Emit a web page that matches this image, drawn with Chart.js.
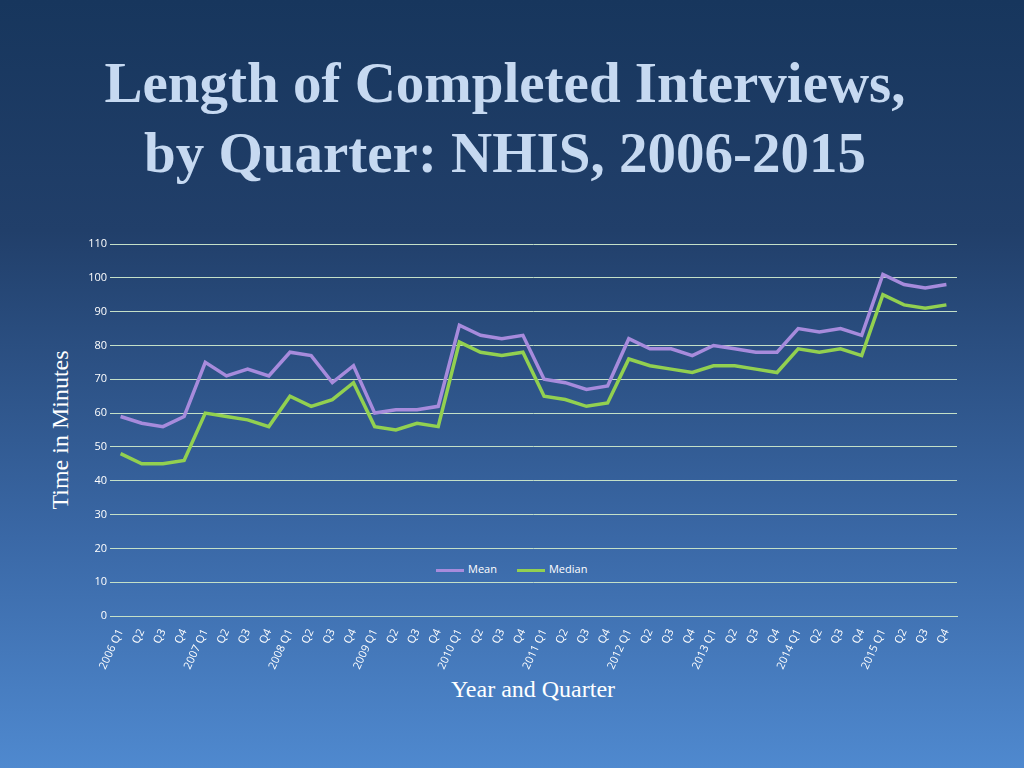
<!DOCTYPE html>
<html><head><meta charset="utf-8">
<script src="https://cdn.jsdelivr.net/npm/chart.js@4"></script>
<style>
html,body{margin:0;padding:0;}
body{width:1024px;height:768px;overflow:hidden;position:relative;background:linear-gradient(180deg,#17365d 0%,#213f6a 30%,#3a68a6 70%,#4f89cf 100%);font-family:"Liberation Serif",serif;}
#title{position:absolute;top:48px;left:0;width:1010px;text-align:center;color:#c6d9f1;font-weight:bold;font-size:57px;line-height:70px;}
#ytitle{position:absolute;left:60px;top:430px;transform:translate(-50%,-50%) rotate(-90deg);color:#fff;font-size:24px;white-space:nowrap;}
#xtitle{position:absolute;top:676px;left:0;width:1066px;text-align:center;color:#fff;font-size:24px;}
#legend{position:absolute;top:561px;left:436px;color:#fff;font-family:"Open Sans",sans-serif;font-size:11px;}
#legend span{display:inline-block;margin-right:20px;}
#legend i{display:inline-block;width:28px;height:3px;vertical-align:middle;margin-right:4px;}
canvas{position:absolute;left:0;top:230px;}
</style></head><body>
<div id="title">Length of Completed Interviews,<br>by Quarter: NHIS, 2006-2015</div>
<div id="ytitle">Time in Minutes</div>
<div id="xtitle">Year and Quarter</div>
<div id="legend"><span><i style="background:#a78bdc"></i>Mean</span><span><i style="background:#92d050"></i>Median</span></div>
<canvas id="c" width="1024" height="538"></canvas>
<script>
const years=["2006","2007","2008","2009","2010","2011","2012","2013","2014","2015"];
const quarters=["Q1","Q2","Q3","Q4"];
const labels=[];years.forEach(y=>quarters.forEach(q=>labels.push(q==="Q1"?y+" Q1":q)));
const mean=[59,57,56,59, 75,71,73,71, 78,77,69,74, 60,61,61,62, 86,83,82,83, 70,69,67,68, 82,79,79,77, 80,79,78,78, 85,84,85,83, 101,98,97,98];
const median=[48,45,45,46, 60,59,58,56, 65,62,64,69, 56,55,57,56, 81,78,77,78, 65,64,62,63, 76,74,73,72, 74,74,73,72, 79,78,79,77, 95,92,91,92];
new Chart(document.getElementById('c'),{type:'line',
data:{labels,datasets:[
{label:'Mean',data:mean,borderColor:'#a78bdc',borderWidth:3.5,pointRadius:0,tension:0},
{label:'Median',data:median,borderColor:'#92d050',borderWidth:3.5,pointRadius:0,tension:0}]},
options:{responsive:false,animation:false,layout:{padding:{top:14,right:67,left:0,bottom:0}},
plugins:{legend:{display:false},tooltip:{enabled:false}},
scales:{
y:{min:0,max:110,ticks:{stepSize:10,color:'#fff',font:{family:'Open Sans',size:11}},grid:{color:'#c4e0c8',lineWidth:1,drawTicks:false},border:{display:false},afterFit:a=>{a.width=110;}},
x:{offset:true,ticks:{color:'#fff',font:{family:'Open Sans',size:11},minRotation:65,maxRotation:65,autoSkip:false},grid:{display:false},border:{color:'#c4e0c8'},afterFit:a=>{a.height=152;}}}}});
</script></body></html>
